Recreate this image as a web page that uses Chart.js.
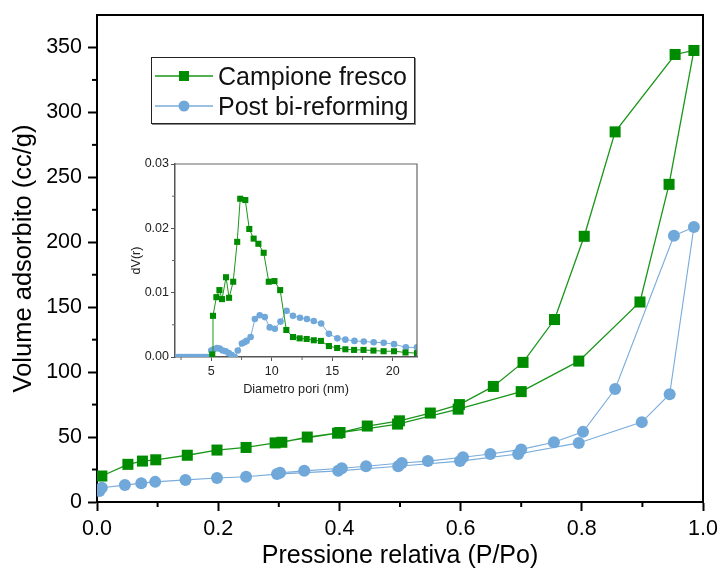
<!DOCTYPE html>
<html><head><meta charset="utf-8">
<script src="https://cdn.jsdelivr.net/npm/chart.js@4.4.1/dist/chart.umd.min.js"></script>
<style>
html,body{margin:0;padding:0;background:#fff;}
#wrap{position:relative;width:720px;height:578px;overflow:hidden;}
#main{position:absolute;left:0;top:0;}
#inset{position:absolute;left:120px;top:150px;}
#legend{position:absolute;left:151px;top:57px;width:262px;height:65px;border:1px solid #222;box-shadow:1px 1px 0 #888;background:#fff;font-family:"Liberation Sans",Arial,sans-serif;font-size:25px;color:#111;}
.row{position:absolute;left:0;width:262px;height:30px;}
.row svg{position:absolute;left:3px;top:0;}
.row span{position:absolute;left:66px;top:0;line-height:30px;white-space:nowrap;}
</style>
</head><body>
<div id="wrap">
<canvas id="main" width="720" height="578"></canvas>
<canvas id="inset" width="310" height="255"></canvas>
<div id="legend">
 <div class="row" style="top:3px"><svg width="58" height="30"><line x1="0" y1="15" x2="58" y2="15" stroke="#1a961a" stroke-width="1.3"/><rect x="24" y="10" width="10" height="10" fill="#008c00"/></svg><span>Campione fresco</span></div>
 <div class="row" style="top:33px"><svg width="58" height="30"><line x1="0" y1="15" x2="58" y2="15" stroke="#79acdb" stroke-width="1.3"/><circle cx="29" cy="15" r="5.5" fill="#70a8da"/></svg><span>Post bi-reforming</span></div>
</div>
</div>
<script>
// ---- Main isotherm data (P/Po, cc/g) ----
const freshAdsP = [0.008,0.051,0.075,0.097,0.149,0.198,0.246,0.294,0.397,0.496,0.596,0.700,0.795,0.896,0.944,0.985];
const freshAdsV = [20,29,31.5,32.5,36,40,42,45.5,53,60,71.5,85,108.5,154,244.6,347.7];
const freshDesP = [0.954,0.855,0.804,0.755,0.703,0.654,0.598,0.550,0.499,0.446,0.401,0.347,0.305];
const freshDesV = [344.6,285,204.6,140.5,107.5,89,75,68.5,62.5,58.5,53.5,50,46];

const postAdsP = [0.004,0.008,0.046,0.073,0.096,0.146,0.198,0.246,0.297,0.398,0.497,0.599,0.695,0.795,0.899,0.945,0.985];
const postAdsV = [8.5,11,13,14.5,15.5,17,18.5,19.5,21.5,24,27.5,31.5,37,45.5,61.5,83,211.7];
const postDesP = [0.952,0.855,0.802,0.754,0.700,0.649,0.604,0.546,0.503,0.444,0.404,0.342,0.302];
const postDesV = [205,87,54,46,40.5,37,34.5,31.5,30,27.5,26,24,22.5];

// ---- Inset pore size distribution (nm, dV(r)) ----
const psdFreshD = [5.08,5.14,5.42,5.67,5.89,6.22,6.47,6.81,7.14,7.39,7.81,8.14,8.5,8.89,9.33,9.75,10.22,10.69,11.2,11.75,12.3,12.88,13.47,14.06,14.72,15.4,16.08,16.8,17.58,18.4,19.24,20.1,21.05,22.0];
const psdFreshV = [0.0004,0.0064,0.0093,0.0104,0.0090,0.0124,0.0092,0.0117,0.0179,0.0246,0.0244,0.0199,0.0184,0.0176,0.0162,0.0117,0.0118,0.0104,0.0042,0.0031,0.0029,0.0028,0.0026,0.0025,0.0017,0.0014,0.0012,0.0011,0.0011,0.0010,0.0009,0.0009,0.0007,0.0006];
const psdPostD = [2.0,2.2,2.4,2.6,2.8,3.0,3.2,3.4,3.6,3.8,4.0,4.2,4.4,4.6,4.8,5.0,5.22,5.47,5.69,5.94,6.19,6.44,6.69,6.94,7.19,7.53,7.75,7.92,8.25,8.6,9.0,9.42,9.83,10.25,10.72,11.22,11.75,12.33,12.9,13.47,14.08,14.72,15.42,16.08,16.83,17.6,18.42,19.25,20.1,21.08,22.0];
const psdPostV = [0,0,0,0,0,0,0,0,0,0,0,0,0,0,0,0.0010,0.0012,0.0014,0.0013,0.0010,0.0009,0.0006,0.0003,0.0,0.0010,0.0021,0.0023,0.0025,0.0031,0.0059,0.0065,0.0062,0.0046,0.0044,0.0055,0.0072,0.0064,0.0061,0.0059,0.0056,0.0052,0.0036,0.0029,0.0027,0.0025,0.0024,0.0023,0.0022,0.0020,0.0015,0.0015];

// ---- Tick values and labels ----
const mainXTicks = [0, 0.2, 0.4, 0.6, 0.8, 1.0];
const mainYTicks = [0, 50, 100, 150, 200, 250, 300, 350];
const insetXTicks = [5, 10, 15, 20];
const insetYTicks = [0, 0.01, 0.02, 0.03];
const seriesNames = ['Campione fresco','Post bi-reforming'];
const mainXTitle = 'Pressione relativa (P/Po)';
const mainYTitle = 'Volume adsorbito (cc/g)';
const insetXTitle = 'Diametro pori (nm)';
const insetYTitle = 'dV(r)';

const pts = (xs, ys) => xs.map((x,i)=>({x:x, y:ys[i]}));
const setTicks = vals => s => { s.ticks = vals.map(v => ({ value: v })); };
const fitW = w => s => { s.width = w; s.paddingTop = 0; s.paddingBottom = 0; };
const fitH = h => s => { s.height = h; s.paddingLeft = 0; s.paddingRight = 0; };
const GREEN = '#008c00', GREEN_LINE = '#1a961a', BLUE = '#70a8da', BLUE_LINE = '#79acdb';
const FONT = '"Liberation Sans", Arial, sans-serif';

const frameAndMinor = {
  id: 'frameAndMinor',
  afterDraw(chart, args, opts) {
    const ctx = chart.ctx, a = chart.chartArea;
    ctx.save();
    ctx.strokeStyle = opts.color; ctx.lineWidth = opts.width;
    ctx.beginPath();
    ctx.moveTo(a.left, a.top); ctx.lineTo(a.right, a.top); ctx.lineTo(a.right, a.bottom);
    ctx.stroke();
    ctx.lineWidth = opts.minorWidth;
    ['x','y'].forEach(id => {
      const s = chart.scales[id], m = opts[id];
      if (!m) return;
      for (let k = Math.ceil(s.min / m.step); k * m.step <= s.max + 1e-9; k++) {
        const val = k * m.step;
        if (Math.abs(val / m.major - Math.round(val / m.major)) < 1e-6) continue;
        if (val <= s.min + 1e-9 || val >= s.max - 1e-9) continue;
        const p = s.getPixelForValue(val);
        ctx.beginPath();
        if (id === 'x') { ctx.moveTo(p, a.bottom); ctx.lineTo(p, a.bottom + m.len); }
        else { ctx.moveTo(a.left, p); ctx.lineTo(a.left - m.len, p); }
        ctx.stroke();
      }
    });
    ctx.restore();
  }
};

new Chart(document.getElementById('main'), {
  type: 'scatter',
  data: { datasets: [
    { label: seriesNames[0], data: pts(freshAdsP.concat(freshDesP), freshAdsV.concat(freshDesV)),
      showLine: true, borderColor: GREEN_LINE, borderWidth: 1.3, backgroundColor: GREEN,
      pointStyle: 'rect', pointRadius: 7.8, pointBorderWidth: 0, pointBackgroundColor: GREEN, tension: 0 },
    { label: seriesNames[1], data: pts(postAdsP.concat(postDesP), postAdsV.concat(postDesV)),
      showLine: true, borderColor: BLUE_LINE, borderWidth: 1.1, backgroundColor: BLUE,
      pointStyle: 'circle', pointRadius: 6, pointBorderWidth: 0, pointBackgroundColor: BLUE, tension: 0 }
  ]},
  options: {
    responsive: false, animation: false, devicePixelRatio: 1,
    layout: { padding: { top: 15, right: 17, left: 0, bottom: 0 } },
    plugins: { legend: { display: false }, tooltip: { enabled: false },
      frameAndMinor: { color: '#000', width: 2, minorWidth: 2,
        x: { step: 0.1, major: 0.2, len: 5 }, y: { step: 25, major: 50, len: 5 } } },
    scales: {
      x: { type: 'linear', min: 0, max: 1.0,
        afterFit: fitH(76),
        afterBuildTicks: setTicks(mainXTicks),
        ticks: { padding: 5, color: '#000', font: { family: FONT, size: 21.5 }, callback: v => v.toFixed(1), maxRotation: 0, autoSkip: false },
        grid: { drawOnChartArea: false, drawTicks: true, tickLength: 9, tickWidth: 2, tickColor: '#000' },
        border: { display: true, color: '#000', width: 2 },
        title: { display: true, text: mainXTitle, color: '#000', font: { family: FONT, size: 25 }, padding: { top: 0, bottom: 7 } } },
      y: { type: 'linear', min: 0, max: 375,
        afterFit: fitW(97),
        afterBuildTicks: setTicks(mainYTicks),
        ticks: { padding: 6, color: '#000', font: { family: FONT, size: 21.5 }, autoSkip: false },
        grid: { drawOnChartArea: false, drawTicks: true, tickLength: 9, tickWidth: 2, tickColor: '#000' },
        border: { display: true, color: '#000', width: 2 },
        title: { display: true, text: mainYTitle, color: '#000', font: { family: FONT, size: 25.5 }, padding: { top: 9, bottom: 0 } } }
    }
  },
  plugins: [frameAndMinor]
});

new Chart(document.getElementById('inset'), {
  type: 'scatter',
  data: { datasets: [
    { label: seriesNames[0], data: pts(psdFreshD, psdFreshV),
      showLine: true, borderColor: GREEN_LINE, borderWidth: 1, backgroundColor: GREEN,
      pointStyle: 'rect', pointRadius: 4.3, pointBorderWidth: 0, pointBackgroundColor: GREEN, tension: 0 },
    { label: seriesNames[1], data: pts(psdPostD, psdPostV),
      showLine: true, borderColor: BLUE_LINE, borderWidth: 1, backgroundColor: BLUE,
      pointStyle: 'circle', pointRadius: 3.3, pointBorderWidth: 0, pointBackgroundColor: BLUE, tension: 0 }
  ]},
  options: {
    responsive: false, animation: false, devicePixelRatio: 1,
    layout: { padding: { top: 14, right: 13, left: 0, bottom: 0 } },
    plugins: { legend: { display: false }, tooltip: { enabled: false },
      frameAndMinor: { color: '#666', width: 1.2, minorWidth: 1,
        x: { step: 2.5, major: 5, len: 3 }, y: { step: 0.005, major: 0.01, len: 3 } } },
    scales: {
      x: { type: 'linear', min: 2, max: 22,
        afterFit: fitH(48),
        afterBuildTicks: setTicks(insetXTicks),
        ticks: { padding: 3, color: '#222', font: { family: FONT, size: 12.5 }, maxRotation: 0, autoSkip: false },
        grid: { drawOnChartArea: false, drawTicks: true, tickLength: 4, tickWidth: 1, tickColor: '#555' },
        border: { display: true, color: '#555', width: 1.5 },
        title: { display: true, text: insetXTitle, color: '#222', font: { family: FONT, size: 12.7 }, padding: { top: 0, bottom: 8 } } },
      y: { type: 'linear', min: 0, max: 0.03,
        afterFit: fitW(55),
        afterBuildTicks: setTicks(insetYTicks),
        ticks: { padding: 2, color: '#222', font: { family: FONT, size: 12.5 }, callback: v => v.toFixed(2), autoSkip: false },
        grid: { drawOnChartArea: false, drawTicks: true, tickLength: 4, tickWidth: 1, tickColor: '#555' },
        border: { display: true, color: '#555', width: 1.5 },
        title: { display: true, text: insetYTitle, color: '#222', font: { family: FONT, size: 12.5 }, padding: { top: 9, bottom: 0 } } }
    }
  },
  plugins: [frameAndMinor]
});
</script>
</body></html>
